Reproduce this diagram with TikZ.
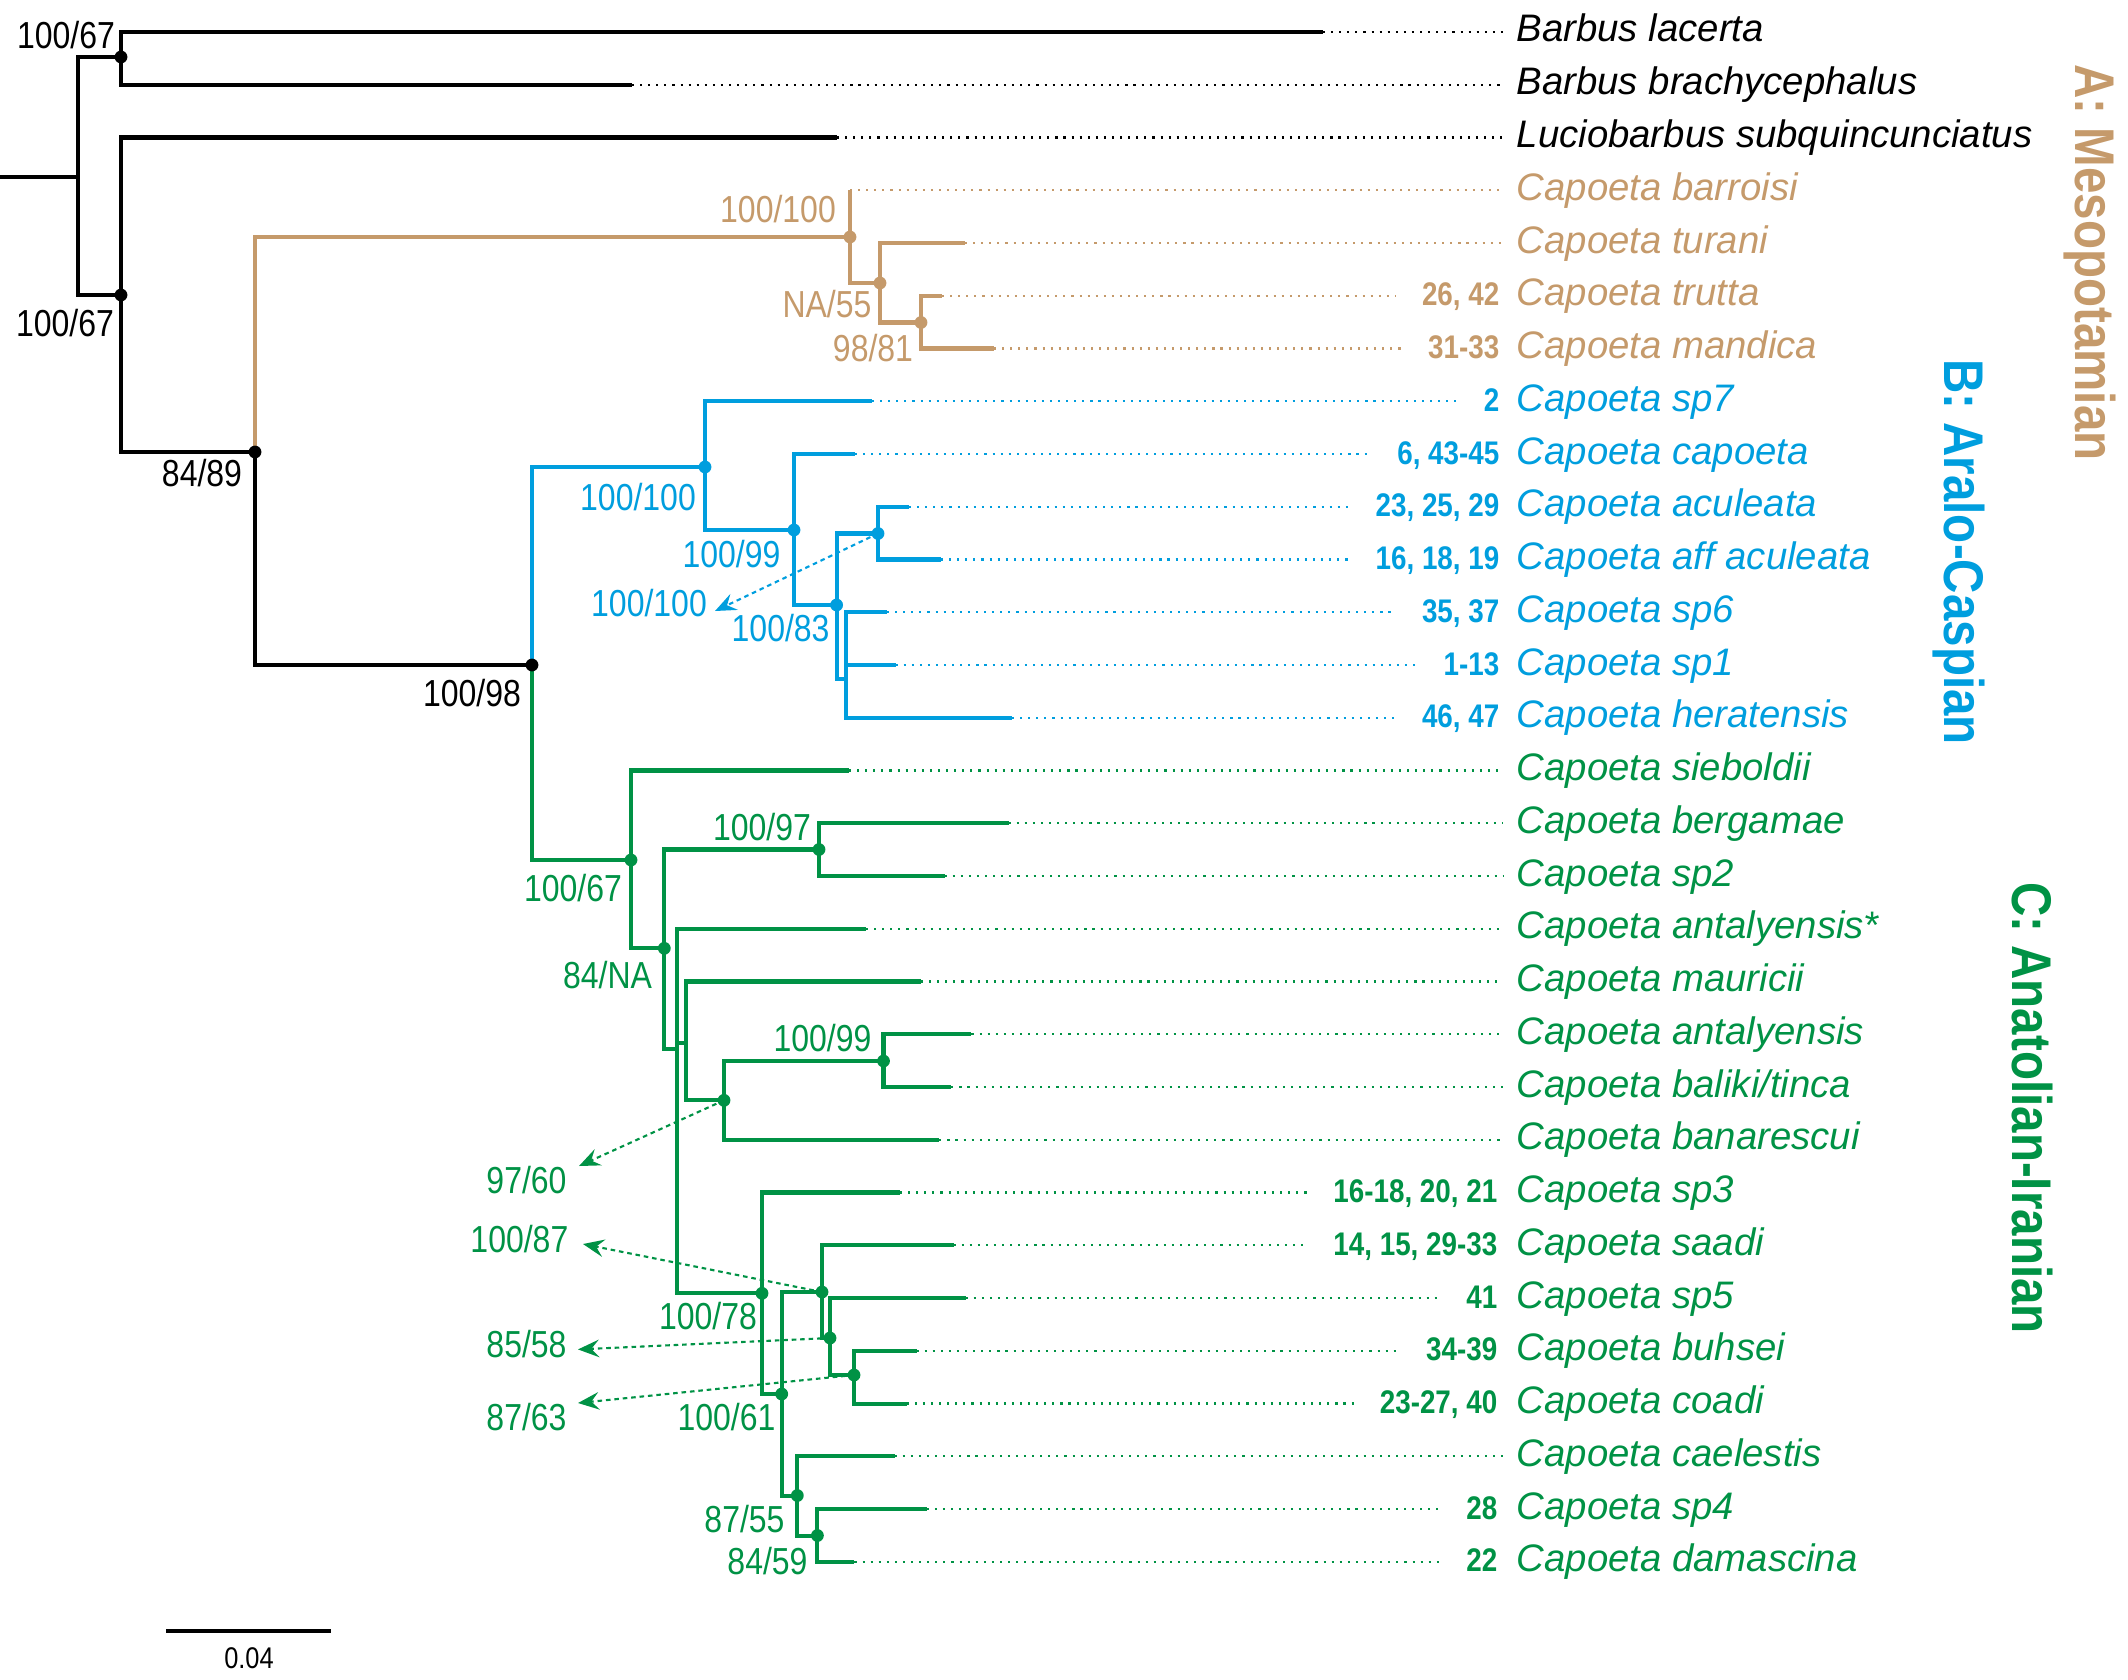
\documentclass[tikz,border=0pt]{standalone}
\usepackage{fontspec}
\setmainfont{Liberation Sans}
\newfontfamily\supfont{Liberation Sans}[FakeStretch=0.85]
\usetikzlibrary{arrows.meta,calc}
\definecolor{tanc}{RGB}{197,154,107}
\definecolor{bluec}{RGB}{0,158,222}
\definecolor{greenc}{RGB}{0,146,69}
\begin{document}
\begin{tikzpicture}[x=0.01cm,y=-0.01cm,
  br/.style={line width=1.15pt,line cap=butt,line join=miter},
  tipdot/.style={line width=0.6pt,dash pattern=on 0.6pt off 1.7pt},
  arr/.style={line width=0.6pt,dash pattern=on 1.3pt off 1.1pt,-{Stealth[length=6pt,width=5pt,inset=2.2pt]}},
  sup/.style={font=\supfont\fontsize{10.7}{12}\selectfont,inner sep=0pt,anchor=base},
  num/.style={font=\supfont\bfseries\fontsize{9.3}{11}\selectfont,inner sep=0pt,anchor=base east},
  nm/.style={font=\itshape\fontsize{10.9}{12}\selectfont,inner sep=0pt,anchor=base west},
  clade/.style={font=\supfont\bfseries\fontsize{15.9}{18}\selectfont,inner sep=0pt,anchor=base,rotate=-90}
]
\useasboundingbox (0,0) rectangle (2128,1679);

% ---------- tip ends ----------
\coordinate (t0) at (1323,32);
\coordinate (t1) at (632,84.75);
\coordinate (t2) at (837,137.5);
\coordinate (t3) at (850,190.25);
\coordinate (t4) at (965,243);
\coordinate (t5) at (942,295.75);
\coordinate (t6) at (994,348.5);
\coordinate (t7) at (872,401.25);
\coordinate (t8) at (855,454);
\coordinate (t9) at (909,506.75);
\coordinate (t10) at (941,559.5);
\coordinate (t11) at (887,612.25);
\coordinate (t12) at (895.5,665);
\coordinate (t13) at (1012,717.75);
\coordinate (t14) at (849,770.5);
\coordinate (t15) at (1008.5,823.25);
\coordinate (t16) at (944.6,876);
\coordinate (t17) at (866,928.75);
\coordinate (t18) at (921,981.5);
\coordinate (t19) at (971.4,1034.25);
\coordinate (t20) at (951.3,1087);
\coordinate (t21) at (939.3,1139.75);
\coordinate (t22) at (900,1192.5);
\coordinate (t23) at (953.5,1245.25);
\coordinate (t24) at (965.6,1298);
\coordinate (t25) at (916.5,1350.75);
\coordinate (t26) at (906.7,1403.5);
\coordinate (t27) at (894.6,1456.25);
\coordinate (t28) at (926.8,1509);
\coordinate (t29) at (854.4,1561.75);

% ---------- internal nodes ----------
\coordinate (r0) at (0,177);
\coordinate (nR) at (78,177);
\coordinate (nA) at (121,57);
\coordinate (nB) at (121,295);
\coordinate (n84) at (255,452);
\coordinate (n98) at (532,665);
\coordinate (nT1) at (850,237);
\coordinate (nT2) at (880,283);
\coordinate (nT3) at (921,322.5);
\coordinate (nB1) at (705,467);
\coordinate (nB2) at (794,530);
\coordinate (nB3) at (836.6,605);
\coordinate (nB4) at (878,533.5);
\coordinate (nBP) at (846,678.6);
\coordinate (nG1) at (631,860);
\coordinate (nG2) at (664.3,948.3);
\coordinate (nG3) at (819,849.5);
\coordinate (nGX) at (677,1048.6);
\coordinate (nGY) at (685.7,1042.6);
\coordinate (nG4) at (724,1100.3);
\coordinate (nG5) at (883.5,1061);
\coordinate (nG6) at (762,1293.3);
\coordinate (nG7) at (781.7,1394);
\coordinate (nG8) at (822,1292);
\coordinate (nG9) at (830,1338);
\coordinate (nG10) at (854,1375);
\coordinate (nG11) at (797.3,1495.5);
\coordinate (nG12) at (817.4,1535.5);

% ---------- branches ----------
\draw[br] (r0) -- (nR);
\draw[br] (nR) |- (nA);
\draw[br] (nR) |- (nB);
\draw[br] (nA) |- (t0);
\draw[br] (nA) |- (t1);
\draw[br] (nB) |- (t2);
\draw[br] (nB) |- (n84);
\draw[br] (n84) |- (n98);

\draw[br,tanc] (n84) |- (nT1);
\draw[br,tanc] (nT1) |- (t3);
\draw[br,tanc] (nT1) |- (nT2);
\draw[br,tanc] (nT2) |- (t4);
\draw[br,tanc] (nT2) |- (nT3);
\draw[br,tanc] (nT3) |- (t5);
\draw[br,tanc] (nT3) |- (t6);

\draw[br,bluec] (n98) |- (nB1);
\draw[br,bluec] (nB1) |- (t7);
\draw[br,bluec] (nB1) |- (nB2);
\draw[br,bluec] (nB2) |- (t8);
\draw[br,bluec] (nB2) |- (nB3);
\draw[br,bluec] (nB3) |- (nB4);
\draw[br,bluec] (nB3) |- (nBP);
\draw[br,bluec] (nB4) |- (t9);
\draw[br,bluec] (nB4) |- (t10);
\draw[br,bluec] (nBP) |- (t11);
\draw[br,bluec] (nBP) |- (t12);
\draw[br,bluec] (nBP) |- (t13);

\draw[br,greenc] (n98) |- (nG1);
\draw[br,greenc] (nG1) |- (t14);
\draw[br,greenc] (nG1) |- (nG2);
\draw[br,greenc] (nG2) |- (nG3);
\draw[br,greenc] (nG3) |- (t15);
\draw[br,greenc] (nG3) |- (t16);
\draw[br,greenc] (nG2) |- (nGX);
\draw[br,greenc] (nGX) |- (t17);
\draw[br,greenc] (nGX) |- (nGY);
\draw[br,greenc] (nGX) |- (nG6);
\draw[br,greenc] (nGY) |- (t18);
\draw[br,greenc] (nGY) |- (nG4);
\draw[br,greenc] (nG4) |- (nG5);
\draw[br,greenc] (nG4) |- (t21);
\draw[br,greenc] (nG5) |- (t19);
\draw[br,greenc] (nG5) |- (t20);
\draw[br,greenc] (nG6) |- (t22);
\draw[br,greenc] (nG6) |- (nG7);
\draw[br,greenc] (nG7) |- (nG8);
\draw[br,greenc] (nG7) |- (nG11);
\draw[br,greenc] (nG8) |- (t23);
\draw[br,greenc] (nG8) |- (nG9);
\draw[br,greenc] (nG9) |- (t24);
\draw[br,greenc] (nG9) |- (nG10);
\draw[br,greenc] (nG10) |- (t25);
\draw[br,greenc] (nG10) |- (t26);
\draw[br,greenc] (nG11) |- (t27);
\draw[br,greenc] (nG11) |- (nG12);
\draw[br,greenc] (nG12) |- (t28);
\draw[br,greenc] (nG12) |- (t29);

% ---------- node dots ----------
\foreach \n in {nA,nB,n84,n98} \fill (\n) circle[radius=0.064cm];
\foreach \n in {nT1,nT2,nT3} \fill[tanc] (\n) circle[radius=0.064cm];
\foreach \n in {nB1,nB2,nB3,nB4} \fill[bluec] (\n) circle[radius=0.064cm];
\foreach \n in {nG1,nG2,nG3,nG4,nG5,nG6,nG7,nG8,nG9,nG10,nG11,nG12} \fill[greenc] (\n) circle[radius=0.064cm];

% ---------- tip labels ----------
\node[nm] (m0) at (1516,42) {Barbus lacerta};
\node[nm] (m1) at (1516,94.75) {Barbus brachycephalus};
\node[nm] (m2) at (1516,147.5) {Luciobarbus subquincunciatus};
\node[nm,tanc] (m3) at (1516,200.25) {Capoeta barroisi};
\node[nm,tanc] (m4) at (1516,253) {Capoeta turani};
\node[nm,tanc] (m5) at (1516,305.75) {Capoeta trutta};
\node[nm,tanc] (m6) at (1516,358.5) {Capoeta mandica};
\node[nm,bluec] (m7) at (1516,411.25) {Capoeta sp7};
\node[nm,bluec] (m8) at (1516,464) {Capoeta capoeta};
\node[nm,bluec] (m9) at (1516,516.75) {Capoeta aculeata};
\node[nm,bluec] (m10) at (1516,569.5) {Capoeta aff aculeata};
\node[nm,bluec] (m11) at (1516,622.25) {Capoeta sp6};
\node[nm,bluec] (m12) at (1516,675) {Capoeta sp1};
\node[nm,bluec] (m13) at (1516,727.75) {Capoeta heratensis};
\node[nm,greenc] (m14) at (1516,780.5) {Capoeta sieboldii};
\node[nm,greenc] (m15) at (1516,833.25) {Capoeta bergamae};
\node[nm,greenc] (m16) at (1516,886) {Capoeta sp2};
\node[nm,greenc] (m17) at (1516,938.75) {Capoeta antalyensis*};
\node[nm,greenc] (m18) at (1516,991.5) {Capoeta mauricii};
\node[nm,greenc] (m19) at (1516,1044.25) {Capoeta antalyensis};
\node[nm,greenc] (m20) at (1516,1097) {Capoeta baliki/tinca};
\node[nm,greenc] (m21) at (1516,1149.75) {Capoeta banarescui};
\node[nm,greenc] (m22) at (1516,1202.5) {Capoeta sp3};
\node[nm,greenc] (m23) at (1516,1255.25) {Capoeta saadi};
\node[nm,greenc] (m24) at (1516,1308) {Capoeta sp5};
\node[nm,greenc] (m25) at (1516,1360.75) {Capoeta buhsei};
\node[nm,greenc] (m26) at (1516,1413.5) {Capoeta coadi};
\node[nm,greenc] (m27) at (1516,1466.25) {Capoeta caelestis};
\node[nm,greenc] (m28) at (1516,1519) {Capoeta sp4};
\node[nm,greenc] (m29) at (1516,1571.75) {Capoeta damascina};

% ---------- specimen numbers ----------
\node[num,tanc] (k5) at (1500,305.75) {26, 42};
\node[num,tanc] (k6) at (1500,358.5) {31-33};
\node[num,bluec] (k7) at (1500,411.25) {2};
\node[num,bluec] (k8) at (1500,464) {6, 43-45};
\node[num,bluec] (k9) at (1500,516.75) {23, 25, 29};
\node[num,bluec] (k10) at (1500,569.5) {16, 18, 19};
\node[num,bluec] (k11) at (1500,622.25) {35, 37};
\node[num,bluec] (k12) at (1500,675) {1-13};
\node[num,bluec] (k13) at (1500,727.75) {46, 47};
\node[num,greenc] (k22) at (1498,1202.5) {16-18, 20, 21};
\node[num,greenc] (k23) at (1498,1255.25) {14, 15, 29-33};
\node[num,greenc] (k24) at (1498,1308) {41};
\node[num,greenc] (k25) at (1498,1360.75) {34-39};
\node[num,greenc] (k26) at (1498,1413.5) {23-27, 40};
\node[num,greenc] (k28) at (1498,1519) {28};
\node[num,greenc] (k29) at (1498,1571.75) {22};

% ---------- dotted leaders ----------
\foreach \i in {0,1,2} \draw[tipdot] (t\i) -- ($(t\i -| m\i.west)+(-13,0)$);
\foreach \i in {3,4} \draw[tipdot,tanc] (t\i) -- ($(t\i -| m\i.west)+(-13,0)$);
\foreach \i in {5,6} \draw[tipdot,tanc] (t\i) -- ($(t\i -| k\i.west)+(-25,0)$);
\foreach \i in {7,...,13} \draw[tipdot,bluec] (t\i) -- ($(t\i -| k\i.west)+(-25,0)$);
\foreach \i in {14,...,21,27} \draw[tipdot,greenc] (t\i) -- ($(t\i -| m\i.west)+(-13,0)$);
\foreach \i in {22,...,26,28,29} \draw[tipdot,greenc] (t\i) -- ($(t\i -| k\i.west)+(-25,0)$);

% ---------- support values ----------
\node[sup] (s1) at (66,49) {100/67};
\node[sup] (s2) at (65,336.7) {100/67};
\node[sup] (s3) at (202,486.7) {84/89};
\node[sup] (s4) at (472,706.7) {100/98};
\node[sup,tanc] (s5) at (778,222.4) {100/100};
\node[sup,tanc] (s6) at (827,317.6) {NA/55};
\node[sup,tanc] (s7) at (873,361.3) {98/81};
\node[sup,bluec] (s8) at (638,510) {100/100};
\node[sup,bluec] (s9) at (731.5,567) {100/99};
\node[sup,bluec] (s10) at (649,616.5) {100/100};
\node[sup,bluec] (s11) at (780.6,641.2) {100/83};
\node[sup,greenc] (s12) at (573,901) {100/67};
\node[sup,greenc] (s13) at (762,840) {100/97};
\node[sup,greenc] (s14) at (607.5,988.5) {84/NA};
\node[sup,greenc] (s15) at (822.5,1051.4) {100/99};
\node[sup,greenc] (s16) at (526.5,1193) {97/60};
\node[sup,greenc] (s17) at (519.4,1252) {100/87};
\node[sup,greenc] (s18) at (708,1329) {100/78};
\node[sup,greenc] (s19) at (526.5,1357.8) {85/58};
\node[sup,greenc] (s20) at (526.5,1430) {87/63};
\node[sup,greenc] (s21) at (726.5,1430) {100/61};
\node[sup,greenc] (s22) at (744.5,1532.5) {87/55};
\node[sup,greenc] (s23) at (767.5,1574.5) {84/59};

% ---------- pointer arrows ----------
\coordinate (aB) at (715,611);
\coordinate (a1) at (579,1166);
\coordinate (a2) at (583,1244);
\coordinate (a3) at (578,1349.4);
\coordinate (a4) at (578,1403);
\draw[arr,bluec] (nB4) -- (aB);
\draw[arr,greenc] (nG4) -- (a1);
\draw[arr,greenc] (nG8) -- (a2);
\draw[arr,greenc] (nG9) -- (a3);
\draw[arr,greenc] (nG10) -- (a4);

% ---------- clade labels ----------
\node[clade,tanc] (cA) at (2075,262.5) {A: Mesopotamian};
\node[clade,bluec] (cB) at (1944,552) {B: Aralo-Caspian};
\node[clade,greenc] (cC) at (2012,1108) {C: Anatolian-Iranian};

% ---------- scale bar ----------
\coordinate (sb1) at (166,1631);
\coordinate (sb2) at (331,1631);
\draw[br] (sb1) -- (sb2);
\node[sup,font=\supfont\fontsize{8.5}{10}\selectfont] (sl) at (249,1668) {0.04};
\end{tikzpicture}
\end{document}
